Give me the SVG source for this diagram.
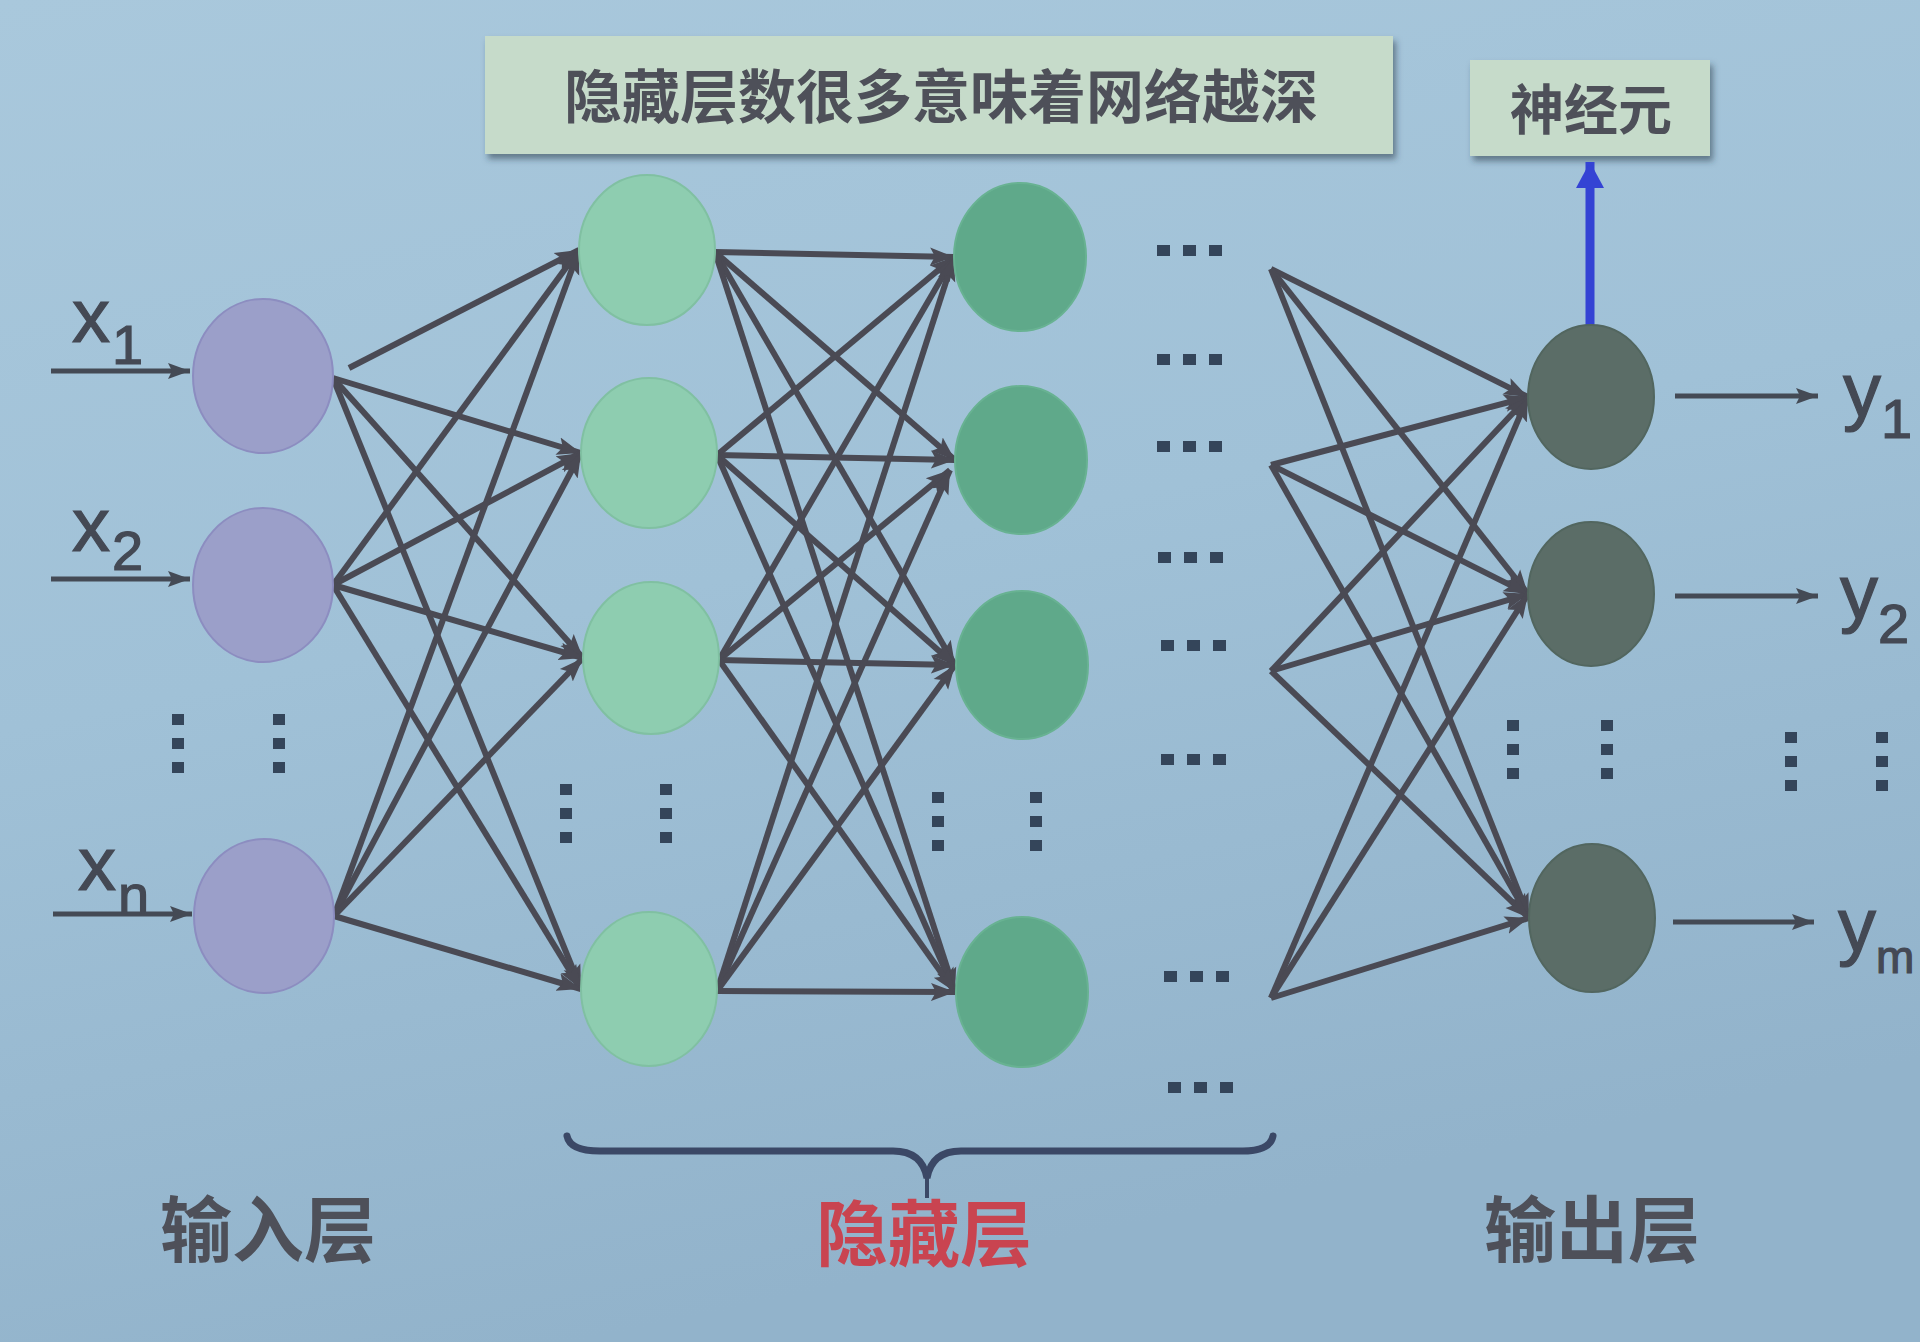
<svg xmlns="http://www.w3.org/2000/svg" width="1920" height="1342" viewBox="0 0 1920 1342">
<defs>
<linearGradient id="bg" x1="0" y1="0" x2="0.3" y2="1">
<stop offset="0" stop-color="#a9c8dc"/>
<stop offset="0.5" stop-color="#a0c1d7"/>
<stop offset="1" stop-color="#92b3cb"/>
</linearGradient>
<marker id="ah" markerUnits="userSpaceOnUse" markerWidth="26" markerHeight="20" refX="24" refY="10" orient="auto">
<path d="M0,1 L24,10 L0,19 L5,10 z" fill="#4a4a54"/>
</marker>
<marker id="ahs" markerUnits="userSpaceOnUse" markerWidth="24" markerHeight="18" refX="22" refY="9" orient="auto">
<path d="M0,1 L22,9 L0,17 L4,9 z" fill="#444a55"/>
</marker>
<marker id="ahb" markerUnits="userSpaceOnUse" markerWidth="30" markerHeight="30" refX="26" refY="15" orient="auto">
<path d="M0,1 L26,15 L0,29 z" fill="#3443d4"/>
</marker>
<filter id="sh" x="-5%" y="-20%" width="110%" height="150%">
<feDropShadow dx="3" dy="5" stdDeviation="3" flood-color="#2a3a4a" flood-opacity="0.55"/>
</filter>
</defs>
<style>
.cn{font-family:"Noto Sans CJK SC","Noto Sans",sans-serif;font-weight:bold;text-anchor:middle}
.lat{font-family:"Liberation Sans",Arial,sans-serif;fill:#444954;stroke:#444954;stroke-width:1.2}
.ln{stroke:#4a4a54;stroke-width:6;fill:none;marker-end:url(#ah)}
.io{stroke:#444a55;stroke-width:5;fill:none;marker-end:url(#ahs)}
.n-in{fill:#9b9fc9;stroke:#8c8dc0;stroke-width:2}
.n-h1{fill:#8ecdb0;stroke:#80c0a2;stroke-width:2}
.n-h2{fill:#5fa98a;stroke:#68b292;stroke-width:2}
.n-out{fill:#5b6d67;stroke:#52665f;stroke-width:2}
.dot{fill:#34455a}
</style>
<rect width="1920" height="1342" fill="url(#bg)"/>

<g id="title-box">
<rect x="485" y="36" width="908" height="118" fill="#c6dbca" filter="url(#sh)"/>
<text class="cn" x="941" y="118" font-size="58" fill="#4e5059">隐藏层数很多意味着网络越深</text>
</g>
<g id="neuron-box">
<rect x="1470" y="60" width="240" height="96" fill="#c6dbca" filter="url(#sh)"/>
<text class="cn" x="1591" y="130" font-size="54" fill="#4e5059">神经元</text>
</g>

<g id="connectors">
<!-- inputs -->
<line class="io" x1="51" y1="371" x2="190" y2="371"/>
<line class="io" x1="51" y1="579" x2="190" y2="579"/>
<line class="io" x1="53" y1="914" x2="192" y2="914"/>
<!-- input -> hidden1 -->
<line class="ln" x1="349" y1="368" x2="579" y2="250"/>
<line class="ln" x1="333" y1="378" x2="581" y2="453"/>
<line class="ln" x1="333" y1="378" x2="583" y2="658"/>
<line class="ln" x1="333" y1="378" x2="581" y2="989"/>
<line class="ln" x1="333" y1="585" x2="579" y2="250"/>
<line class="ln" x1="333" y1="585" x2="581" y2="453"/>
<line class="ln" x1="333" y1="585" x2="583" y2="658"/>
<line class="ln" x1="333" y1="585" x2="581" y2="989"/>
<line class="ln" x1="334" y1="916" x2="579" y2="250"/>
<line class="ln" x1="334" y1="916" x2="581" y2="453"/>
<line class="ln" x1="334" y1="916" x2="583" y2="658"/>
<line class="ln" x1="334" y1="916" x2="581" y2="989"/>
<!-- hidden1 -> hidden2 -->
<line class="ln" x1="715" y1="252" x2="954" y2="257"/>
<line class="ln" x1="715" y1="252" x2="955" y2="460"/>
<line class="ln" x1="715" y1="252" x2="955" y2="665"/>
<line class="ln" x1="715" y1="252" x2="955" y2="992"/>
<line class="ln" x1="717" y1="455" x2="954" y2="257"/>
<line class="ln" x1="717" y1="455" x2="955" y2="460"/>
<line class="ln" x1="717" y1="455" x2="955" y2="665"/>
<line class="ln" x1="717" y1="455" x2="955" y2="992"/>
<line class="ln" x1="719" y1="660" x2="954" y2="257"/>
<line class="ln" x1="719" y1="660" x2="950" y2="470"/>
<line class="ln" x1="719" y1="660" x2="955" y2="665"/>
<line class="ln" x1="719" y1="660" x2="955" y2="992"/>
<line class="ln" x1="717" y1="991" x2="954" y2="257"/>
<line class="ln" x1="717" y1="991" x2="950" y2="470"/>
<line class="ln" x1="717" y1="991" x2="955" y2="665"/>
<line class="ln" x1="717" y1="991" x2="955" y2="992"/>
<!-- right fan -> output -->
<line class="ln" x1="1271" y1="269" x2="1528" y2="397"/>
<line class="ln" x1="1271" y1="269" x2="1528" y2="594"/>
<line class="ln" x1="1271" y1="269" x2="1529" y2="918"/>
<line class="ln" x1="1271" y1="465" x2="1528" y2="397"/>
<line class="ln" x1="1271" y1="465" x2="1528" y2="594"/>
<line class="ln" x1="1271" y1="465" x2="1529" y2="918"/>
<line class="ln" x1="1271" y1="671" x2="1528" y2="397"/>
<line class="ln" x1="1271" y1="671" x2="1528" y2="594"/>
<line class="ln" x1="1271" y1="671" x2="1529" y2="918"/>
<line class="ln" x1="1271" y1="998" x2="1528" y2="397"/>
<line class="ln" x1="1271" y1="998" x2="1528" y2="594"/>
<line class="ln" x1="1271" y1="998" x2="1529" y2="918"/>
<!-- outputs -->
<line class="io" x1="1675" y1="396" x2="1818" y2="396"/>
<line class="io" x1="1675" y1="596" x2="1818" y2="596"/>
<line class="io" x1="1673" y1="922" x2="1814" y2="922"/>
<!-- neuron pointer -->
<line x1="1590" y1="325" x2="1590" y2="162" stroke="#3443d4" stroke-width="9" marker-end="url(#ahb)"/>
</g>

<g id="input-layer">
<ellipse class="n-in" cx="263" cy="376" rx="70" ry="77"/>
<ellipse class="n-in" cx="263" cy="585" rx="70" ry="77"/>
<ellipse class="n-in" cx="264" cy="916" rx="70" ry="77"/>
</g>
<g id="hidden-layer-1">
<ellipse class="n-h1" cx="647" cy="250" rx="68" ry="75"/>
<ellipse class="n-h1" cx="649" cy="453" rx="68" ry="75"/>
<ellipse class="n-h1" cx="651" cy="658" rx="68" ry="76"/>
<ellipse class="n-h1" cx="649" cy="989" rx="68" ry="77"/>
</g>
<g id="hidden-layer-2">
<ellipse class="n-h2" cx="1020" cy="257" rx="66" ry="74"/>
<ellipse class="n-h2" cx="1021" cy="460" rx="66" ry="74"/>
<ellipse class="n-h2" cx="1022" cy="665" rx="66" ry="74"/>
<ellipse class="n-h2" cx="1022" cy="992" rx="66" ry="75"/>
</g>
<g id="output-layer">
<ellipse class="n-out" cx="1591" cy="397" rx="63" ry="72"/>
<ellipse class="n-out" cx="1591" cy="594" rx="63" ry="72"/>
<ellipse class="n-out" cx="1592" cy="918" rx="63" ry="74"/>
</g>

<g id="ellipsis-marks">
<g class="dot">
<rect x="172" y="714" width="12" height="11"/><rect x="172" y="738" width="12" height="11"/><rect x="172" y="762" width="12" height="11"/>
<rect x="273" y="714" width="12" height="11"/><rect x="273" y="738" width="12" height="11"/><rect x="273" y="762" width="12" height="11"/>
<rect x="560" y="784" width="12" height="11"/><rect x="560" y="808" width="12" height="11"/><rect x="560" y="832" width="12" height="11"/>
<rect x="660" y="784" width="12" height="11"/><rect x="660" y="808" width="12" height="11"/><rect x="660" y="832" width="12" height="11"/>
<rect x="932" y="792" width="12" height="11"/><rect x="932" y="816" width="12" height="11"/><rect x="932" y="840" width="12" height="11"/>
<rect x="1030" y="792" width="12" height="11"/><rect x="1030" y="816" width="12" height="11"/><rect x="1030" y="840" width="12" height="11"/>
<rect x="1507" y="720" width="12" height="11"/><rect x="1507" y="744" width="12" height="11"/><rect x="1507" y="768" width="12" height="11"/>
<rect x="1601" y="720" width="12" height="11"/><rect x="1601" y="744" width="12" height="11"/><rect x="1601" y="768" width="12" height="11"/>
<rect x="1785" y="732" width="12" height="11"/><rect x="1785" y="756" width="12" height="11"/><rect x="1785" y="780" width="12" height="11"/>
<rect x="1876" y="732" width="12" height="11"/><rect x="1876" y="756" width="12" height="11"/><rect x="1876" y="780" width="12" height="11"/>
</g>
<g class="dot">
<rect x="1157" y="245" width="13" height="11"/><rect x="1183" y="245" width="13" height="11"/><rect x="1209" y="245" width="13" height="11"/>
<rect x="1157" y="354" width="13" height="11"/><rect x="1183" y="354" width="13" height="11"/><rect x="1209" y="354" width="13" height="11"/>
<rect x="1157" y="441" width="13" height="11"/><rect x="1183" y="441" width="13" height="11"/><rect x="1209" y="441" width="13" height="11"/>
<rect x="1158" y="552" width="13" height="11"/><rect x="1184" y="552" width="13" height="11"/><rect x="1210" y="552" width="13" height="11"/>
<rect x="1161" y="640" width="13" height="11"/><rect x="1187" y="640" width="13" height="11"/><rect x="1213" y="640" width="13" height="11"/>
<rect x="1161" y="754" width="13" height="11"/><rect x="1187" y="754" width="13" height="11"/><rect x="1213" y="754" width="13" height="11"/>
<rect x="1164" y="971" width="13" height="11"/><rect x="1190" y="971" width="13" height="11"/><rect x="1216" y="971" width="13" height="11"/>
<rect x="1168" y="1082" width="13" height="11"/><rect x="1194" y="1082" width="13" height="11"/><rect x="1220" y="1082" width="13" height="11"/>
</g>
</g>

<g id="io-labels">
<text class="lat" x="72" y="342" font-size="76">x</text><text class="lat" x="112" y="364" font-size="56">1</text>
<text class="lat" x="72" y="551" font-size="76">x</text><text class="lat" x="112" y="570" font-size="56">2</text>
<text class="lat" x="78" y="890" font-size="76">x</text><text class="lat" x="118" y="914" font-size="56">n</text>
<text class="lat" x="1843" y="416" font-size="76">y</text><text class="lat" x="1881" y="438" font-size="56">1</text>
<text class="lat" x="1840" y="618" font-size="76">y</text><text class="lat" x="1878" y="643" font-size="56">2</text>
<text class="lat" x="1838" y="951" font-size="76">y</text><text class="lat" x="1876" y="973" font-size="46">m</text>
</g>

<g id="brace">
<path d="M567,1136 Q570,1151 600,1151 L893,1151 Q922,1151 927,1178 Q932,1151 961,1151 L1243,1151 Q1270,1151 1273,1136" fill="none" stroke="#3b4866" stroke-width="7" stroke-linecap="round"/>
<line x1="927" y1="1170" x2="927" y2="1198" stroke="#3b4866" stroke-width="4"/>
</g>

<g id="layer-labels">
<text class="cn" x="268" y="1256" font-size="72" fill="#4e5059">输入层</text>
<text class="cn" x="924" y="1260" font-size="72" fill="#c94450">隐藏层</text>
<text class="cn" x="1592" y="1256" font-size="72" fill="#4e5059">输出层</text>
</g>
</svg>
